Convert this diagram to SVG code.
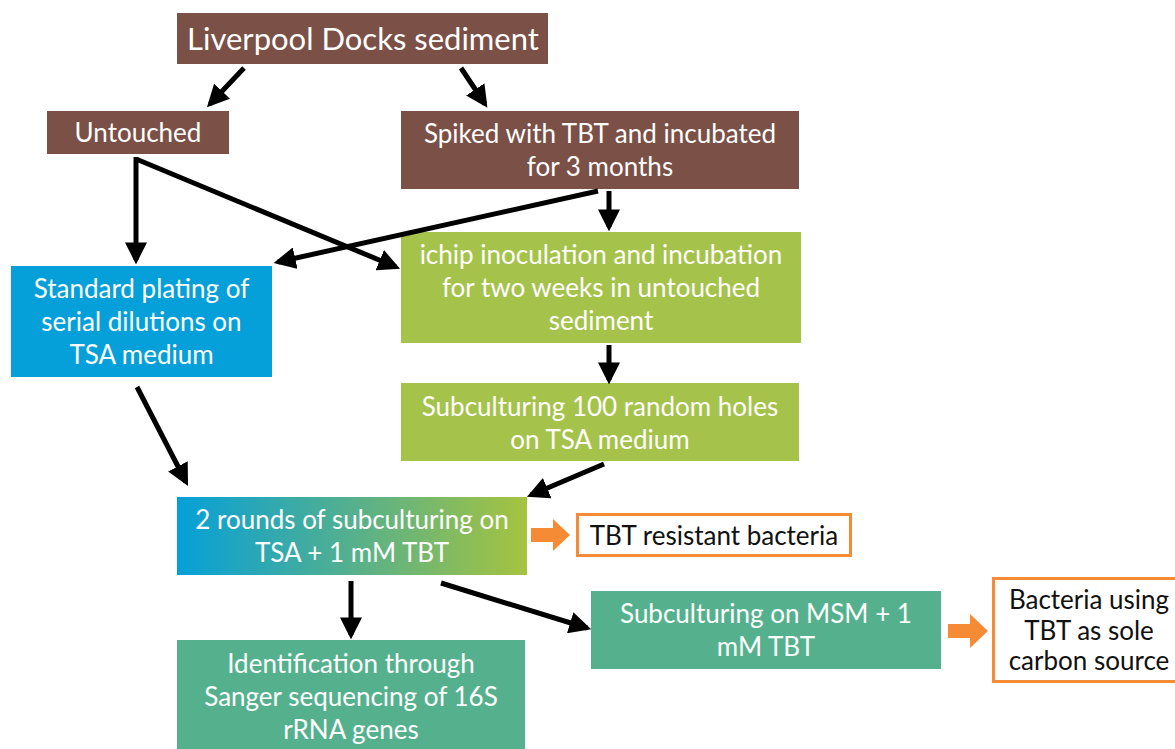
<svg xmlns="http://www.w3.org/2000/svg" width="1175" height="749" viewBox="0 0 1175 749">
<style>
.t{font-family:Lato,"Open Sans","Liberation Sans",sans-serif;fill:#fff;text-anchor:middle;font-size:26px}
.big{font-size:31px}
.k{fill:#111}
.br{fill:#7B5046}
.bl{fill:#05A0D9}
.gr{fill:#A5C34A}
.tl{fill:#55B18D}
.ob{fill:#fff;stroke:#F68B35;stroke-width:3}
.c{stroke:#000;stroke-width:5;fill:none;marker-end:url(#ah)}
</style>
<defs>
<marker id="ah" viewBox="0 0 10 10" refX="8" refY="5" markerWidth="4.4" markerHeight="4.4" orient="auto" markerUnits="strokeWidth">
<path d="M0,0 L10,5 L0,10 Z" fill="#000"/>
</marker>
<linearGradient id="g" x1="0" y1="0" x2="1" y2="0">
<stop offset="0" stop-color="#05A0D9"/>
<stop offset="0.5" stop-color="#55B08D"/>
<stop offset="1" stop-color="#A6C33F"/>
</linearGradient>
</defs>
<g id="n-liverpool"><rect class="br" x="177" y="13" width="371" height="51"/><text class="t big" x="363" y="50">Liverpool Docks sediment</text></g>
<g id="n-untouched"><rect class="br" x="47" y="111" width="182" height="43"/><text class="t" x="138" y="142">Untouched</text></g>
<g id="n-spiked"><rect class="br" x="401" y="111" width="398" height="78"/><text class="t" x="600" y="143">Spiked with TBT and incubated</text><text class="t" x="600" y="176">for 3 months</text></g>
<g id="n-standard"><rect class="bl" x="11" y="266" width="261" height="111"/><text class="t" x="141.5" y="298">Standard plating of</text><text class="t" x="141.5" y="331">serial dilutions on</text><text class="t" x="141.5" y="364">TSA medium</text></g>
<g id="n-ichip"><rect class="gr" x="401" y="232" width="400" height="111"/><text class="t" x="601" y="264">ichip inoculation and incubation</text><text class="t" x="601" y="297">for two weeks in untouched</text><text class="t" x="601" y="330">sediment</text></g>
<g id="n-sub100"><rect class="gr" x="401" y="383" width="398" height="78"/><text class="t" x="600" y="416">Subculturing 100 random holes</text><text class="t" x="600" y="449">on TSA medium</text></g>
<g id="n-rounds"><rect fill="url(#g)" x="177" y="497" width="350" height="78"/><text class="t" x="352" y="529">2 rounds of subculturing on</text><text class="t" x="352" y="562">TSA + 1 mM TBT</text></g>
<g id="n-resistant"><rect class="ob" x="577.5" y="514.5" width="273" height="41"/><text class="t k" x="714" y="545">TBT resistant bacteria</text></g>
<g id="n-msm"><rect class="tl" x="591" y="591" width="350" height="78"/><text class="t" x="766" y="623">Subculturing on MSM + 1</text><text class="t" x="766" y="656">mM TBT</text></g>
<g id="n-bacteria"><rect class="ob" x="993.5" y="578.5" width="185" height="103"/><text class="t k" x="1089" y="609">Bacteria using</text><text class="t k" x="1089" y="640">TBT as sole</text><text class="t k" x="1089" y="670">carbon source</text></g>
<g id="n-ident"><rect class="tl" x="177" y="640" width="348" height="115"/><text class="t" x="351" y="673">Identification through</text><text class="t" x="351" y="706">Sanger sequencing of 16S</text><text class="t" x="351" y="739">rRNA genes</text></g>
<g id="connectors">
<line class="c" x1="244" y1="68" x2="210" y2="104"/>
<line class="c" x1="461" y1="68" x2="485" y2="104"/>
<polyline class="c" points="136,157 136,260"/>
<polyline class="c" points="136,159 396,267"/>
<line class="c" x1="598" y1="191" x2="278" y2="262"/>
<line class="c" x1="609" y1="191" x2="609" y2="227"/>
<line class="c" x1="609" y1="345" x2="609" y2="380"/>
<line class="c" x1="137" y1="387" x2="186" y2="482"/>
<line class="c" x1="604" y1="464" x2="531" y2="495"/>
<line class="c" x1="351" y1="581" x2="351" y2="635"/>
<line class="c" x1="441" y1="583" x2="587" y2="628"/>
<path d="M531,528 L553,528 L553,519 L570,535 L553,551 L553,542 L531,542 Z" fill="#F68B35"/>
<path d="M948,624 L970,624 L970,614 L988,631 L970,648 L970,638 L948,638 Z" fill="#F68B35"/>
</g>
</svg>
